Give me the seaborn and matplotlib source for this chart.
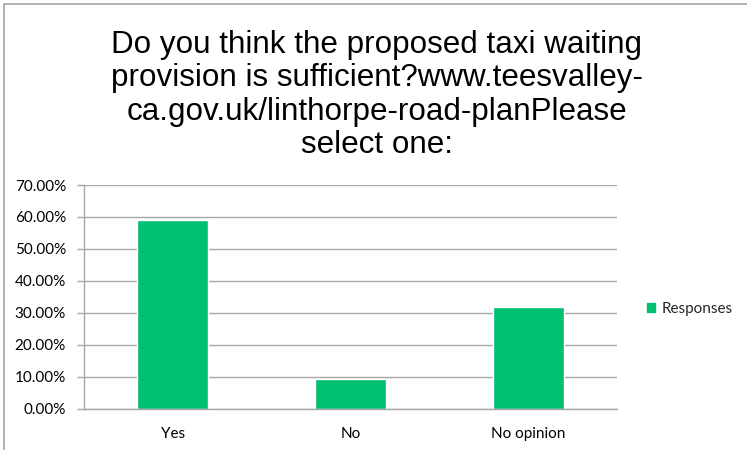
import matplotlib
matplotlib.use("Agg")
import matplotlib.pyplot as plt
import seaborn as sns
import pandas as pd
from matplotlib.ticker import FixedLocator, PercentFormatter
from matplotlib.patches import Patch
from matplotlib.lines import Line2D

# dados
categorias = ["Yes", "No", "No opinion"]
respostas = [59.09, 9.09, 31.82]
titulo = ("Do you think the proposed taxi waiting\n"
          "provision is sufficient?www.teesvalley-\n"
          "ca.gov.uk/linthorpe-road-planPlease\n"
          "select one:")

verde = "#00BF6F"
cinza = "#a6a6a6"

sns.set_style("white")
plt.rcParams["font.family"] = ["Lato", "DejaVu Sans"]

df = pd.DataFrame({"categoria": categorias, "valor": respostas})

fig = plt.figure(figsize=(7.47, 4.5), dpi=100)
ax = fig.add_axes([84 / 747, 1 - 408.5 / 450, (617 - 84) / 747, (408.5 - 185) / 450])

sns.barplot(data=df, x="categoria", y="valor", color=verde, width=0.4,
            saturation=1, ax=ax)

ax.set_xlim(-0.5, 2.5)
ax.set_ylim(0, 70)
ax.set_yticks(range(0, 71, 10))
ax.yaxis.set_major_formatter(PercentFormatter(decimals=2))
ax.yaxis.grid(True, color=cinza, linewidth=1)
ax.set_axisbelow(True)
ax.set_xlabel("")
ax.set_ylabel("")

# marcas do eixo x entre as categorias
ax.xaxis.set_minor_locator(FixedLocator([-0.5, 0.5, 1.5, 2.5]))
ax.tick_params(axis="x", which="major", length=0, pad=13, labelsize=11, colors="black")
ax.tick_params(axis="x", which="minor", length=5, width=1, color=cinza, direction="out")
ax.tick_params(axis="y", which="major", length=5, width=1, color=cinza,
               labelsize=11, labelcolor="black", left=True, pad=8)

for lado in ["top", "right"]:
    ax.spines[lado].set_visible(False)
for lado in ["left", "bottom"]:
    ax.spines[lado].set_color(cinza)
    ax.spines[lado].set_linewidth(1)

# titulo
fig.text(377 / 747, 1 - 95 / 450, titulo, ha="center", va="center",
         fontsize=22.6, family=["Liberation Sans", "DejaVu Sans"],
         linespacing=1.14, color="black")

# legenda
leg = fig.legend(handles=[Patch(facecolor=verde, edgecolor=verde, label="Responses")],
                 loc="center left", bbox_to_anchor=(633 / 747, 1 - 309 / 450),
                 frameon=False, fontsize=11, handlelength=0.55, handleheight=0.55,
                 handletextpad=0.45)

# moldura do grafico (recortada)
fig.add_artist(Line2D([4 / 747, 4 / 747], [0, 1 - 4 / 450], transform=fig.transFigure,
                      color=cinza, linewidth=1.2))
fig.add_artist(Line2D([4 / 747, 1], [1 - 4 / 450, 1 - 4 / 450], transform=fig.transFigure,
                      color=cinza, linewidth=1.2))

fig.savefig("out.png", dpi=100)
